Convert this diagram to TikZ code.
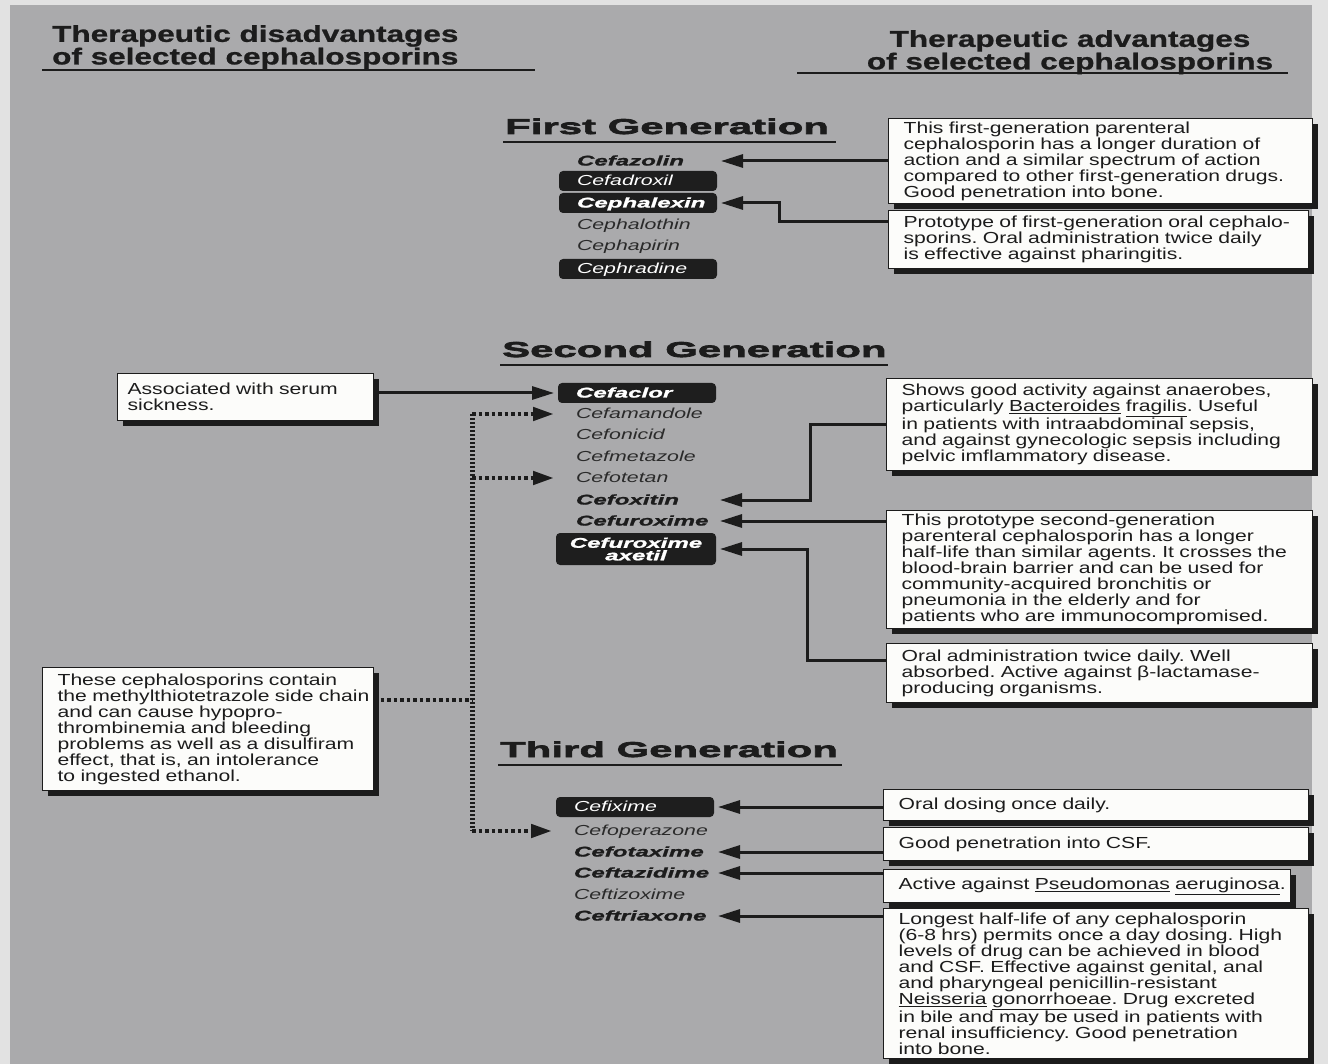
\documentclass[tikz,border=0pt]{standalone}
\usepackage{fontspec}
\setmainfont{Liberation Sans}
\newfontfamily\bodyfont{Liberation Sans}[FakeStretch=1.32]
\newfontfamily\headfont{Liberation Sans}[FakeStretch=1.37, BoldFeatures={FakeBold=1}]
\newfontfamily\genfont{Liberation Sans}[FakeStretch=1.95, BoldFeatures={FakeBold=3.2}]
\newfontfamily\drugBfont{Liberation Sans}[FakeStretch=1.72, BoldItalicFeatures={FakeBold=1.4}]
\newfontfamily\drugLfont{Liberation Sans}[FakeStretch=1.47]
\usetikzlibrary{arrows.meta,shadows,calc}
\definecolor{bg}{RGB}{170,170,172}
\definecolor{ink}{RGB}{28,28,28}
\definecolor{pillc}{RGB}{30,30,30}
\definecolor{lightink}{RGB}{42,42,42}
\definecolor{paper}{RGB}{252,252,250}
\definecolor{margin}{RGB}{226,226,226}
\frenchspacing
\begin{document}
\begin{tikzpicture}[x=1pt,y=-1pt,
 infobox/.style={draw=ink, line width=1.2pt, fill=paper,
   drop shadow={shadow xshift=5pt,shadow yshift=-5pt,fill=ink,opacity=1},
   inner xsep=15pt, inner ysep=3pt, align=left, anchor=north west, text=ink,
   font=\bodyfont\frenchspacing\fontsize{16}{16}\selectfont},
 headtxt/.style={inner sep=0pt, text=ink, font=\headfont\bfseries\fontsize{23}{21.5}\selectfont},
 gentitle/.style={inner sep=0pt, anchor=base west, text=ink, font=\genfont\bfseries\fontsize{21.5}{22}\selectfont},
 rule/.style={draw=ink, line width=1.5pt},
 drug/.style={anchor=west, inner xsep=0pt, inner ysep=3.5pt, text width=158pt, align=left,
   text height=11pt, text depth=2pt, outer sep=4pt},
 indent/.style={execute at begin node={\noindent\hspace*{18pt}}},
 bdrug/.style={drug, indent, text=ink, font=\drugBfont\bfseries\itshape\fontsize{14}{14}\selectfont},
 ldrug/.style={drug, indent, text=lightink, font=\drugLfont\itshape\fontsize{14.5}{14.5}\selectfont},
 pill/.style={fill=pillc, rounded corners=4pt, text=white},
 axetilbox/.style={anchor=west, inner xsep=0pt, inner ysep=2pt, text width=160pt, align=center,
   outer sep=4pt, fill=pillc, rounded corners=4pt, text=white, minimum height=32pt,
   font=\drugBfont\bfseries\itshape\fontsize{14}{12.5}\selectfont},
 conn/.style={draw=ink, line width=3pt, -{Triangle[length=22pt,width=13pt]}},
 dotline/.style={draw=ink, line width=4.5pt, dash pattern=on 3.5pt off 3pt},
 dotbus/.style={draw=ink, line width=5pt, dash pattern=on 2.2pt off 1.8pt},
 dotconn/.style={dotline, -{Triangle[length=21pt,width=13pt]}},
]
\useasboundingbox (0,0) rectangle (1328,1064);
\fill[margin] (0,0) rectangle (1328,1064);
\fill[bg] (10,5) rectangle (1312,1064);

% headers
\node[headtxt, anchor=north west, align=left] (hdis) at (52,25) {Therapeutic disadvantages\\of selected cephalosporins};
\draw[rule, line width=2.5pt] (42,70) -- (535,70);
\node[headtxt, anchor=north, align=center] (hadv) at (1070,30) {Therapeutic advantages\\of selected cephalosporins};
\draw[rule, line width=2.5pt] (797,73) -- (1288,73);

% generation titles
\node[gentitle] (g1) at (505,134) {First Generation};
\draw[rule] (503,142) -- (836,142);
\node[gentitle] (g2) at (502,357) {Second Generation};
\draw[rule] (500,365) -- (888,365);
\node[gentitle] (g3) at (500,757) {Third Generation};
\draw[rule] (498,765) -- (842,765);

% first generation
\node[bdrug] (cefazolin) at (555,161) {Cefazolin};
\node[ldrug,pill] (cefadroxil) at (555,181) {Cefadroxil};
\node[bdrug,pill] (cephalexin) at (555,203) {Cephalexin};
\node[ldrug] (cephalothin) at (555,225) {Cephalothin};
\node[ldrug] (cephapirin) at (555,246) {Cephapirin};
\node[ldrug,pill] (cephradine) at (555,269) {Cephradine};

% second generation
\node[bdrug,pill] (cefaclor) at (554,393) {Cefaclor};
\node[ldrug] (cefamandole) at (554,414) {Cefamandole};
\node[ldrug] (cefonicid) at (554,435) {Cefonicid};
\node[ldrug] (cefmetazole) at (554,457) {Cefmetazole};
\node[ldrug] (cefotetan) at (554,478) {Cefotetan};
\node[bdrug] (cefoxitin) at (554,500) {Cefoxitin};
\node[bdrug] (cefuroxime) at (554,521) {Cefuroxime};
\node[axetilbox] (axetil) at (552,549) {Cefuroxime\\axetil};

% third generation
\node[ldrug,pill] (cefixime) at (552,807) {Cefixime};
\node[ldrug] (cefoperazone) at (552,831) {Cefoperazone};
\node[bdrug] (cefotaxime) at (552,852) {Cefotaxime};
\node[bdrug] (ceftazidime) at (552,873) {Ceftazidime};
\node[ldrug] (ceftizoxime) at (552,895) {Ceftizoxime};
\node[bdrug] (ceftriaxone) at (552,916) {Ceftriaxone};

% right boxes
\node[infobox, text width=394pt, minimum height=84pt] (r1) at (888,118)
 {This first-generation parenteral\\cephalosporin has a longer duration of\\action and a similar spectrum of action\\\mbox{compared to other first-generation drugs.}\\Good penetration into bone.};
\node[infobox, text width=390pt, minimum height=58pt] (r2) at (888,210)
 {\mbox{Prototype of first-generation oral cephalo-}\\sporins. Oral administration twice daily\\is effective against pharingitis.};
\node[infobox, text width=396pt, minimum height=92pt] (r3) at (886,378)
 {Shows good activity against anaerobes,\\particularly \underline{Bacteroides} \underline{fragilis}. Useful\\in patients with intraabdominal sepsis,\\\mbox{and against gynecologic sepsis including}\\pelvic imflammatory disease.};
\node[infobox, text width=396pt, minimum height=118pt] (r4) at (886,510)
 {This prototype second-generation\\parenteral cephalosporin has a longer\\\mbox{half-life than similar agents. It crosses the}\\blood-brain barrier and can be used for\\community-acquired bronchitis or\\pneumonia in the elderly and for\\\mbox{patients who are immunocompromised.}};
\node[infobox, text width=396pt, minimum height=59pt] (r5) at (886,643)
 {Oral administration twice daily. Well\\\mbox{absorbed. Active against β-lactamase-}\\producing organisms.};
\node[infobox, text width=395pt, minimum height=31pt] (r6) at (883,789) {Oral dosing once daily.};
\node[infobox, text width=395pt, minimum height=33pt] (r7) at (883,827) {Good penetration into CSF.};
\node[infobox, text width=377pt, minimum height=33pt] (r8) at (883,869)
 {\mbox{Active against \underline{Pseudomonas} \underline{aeruginosa}.}};
\node[infobox, text width=395pt, minimum height=150pt] (r9) at (883,908)
 {Longest half-life of any cephalosporin\\\mbox{(6-8 hrs) permits once a day dosing. High}\\levels of drug can be achieved in blood\\\mbox{and CSF. Effective against genital, anal}\\and pharyngeal penicillin-resistant\\\mbox{\underline{Neisseria} \underline{gonorrhoeae}. Drug excreted}\\\mbox{in bile and may be used in patients with}\\renal insufficiency. Good penetration\\into bone.};

% left boxes
\node[infobox, inner xsep=10pt, text width=236pt, minimum height=47pt] (l1) at (117,373)
 {Associated with serum\\sickness.};
\node[infobox, text width=301pt, minimum height=123pt] (l2) at (42,667)
 {These cephalosporins contain\\\mbox{the methylthiotetrazole side chain}\\and can cause hypopro-\\thrombinemia and bleeding\\\mbox{problems as well as a disulfiram}\\effect, that is, an intolerance\\to ingested ethanol.};

% solid connectors
\draw[conn] (r1.west |- cefazolin.east) -- (cefazolin.east);
\draw[conn] ($(r2.north west)+(0,12)$) -| ($(cephalexin.east)+(58,0)$) -- (cephalexin.east);
\draw[conn] (l1.east |- cefaclor.west) -- (cefaclor.west);
\draw[conn] (r3.west) -| ($(cefoxitin.east)+(90,0)$) -- (cefoxitin.east);
\draw[conn] (r4.west |- cefuroxime.east) -- (cefuroxime.east);
\draw[conn] ($(r5.north west)+(0,17)$) -| ($(axetil.east)+(87,0)$) -- (axetil.east);
\draw[conn] (r6.west |- cefixime.east) -- (cefixime.east);
\draw[conn] (r7.west |- cefotaxime.east) -- (cefotaxime.east);
\draw[conn] (r8.west |- ceftazidime.east) -- (ceftazidime.east);
\draw[conn] (r9.west |- ceftriaxone.east) -- (ceftriaxone.east);

% dotted connectors
\coordinate (jn) at (472,700);
\draw[dotline] ($(l2.north east)+(0,33)$) -- (jn);
\draw[dotbus] (jn |- cefamandole.west) -- (jn |- cefoperazone.west);
\draw[dotconn] (jn |- cefamandole.west) -- (cefamandole.west);
\draw[dotconn] (jn |- cefotetan.west) -- (cefotetan.west);
\draw[dotconn] (jn |- cefoperazone.west) -- (cefoperazone.west);
\end{tikzpicture}
\end{document}
